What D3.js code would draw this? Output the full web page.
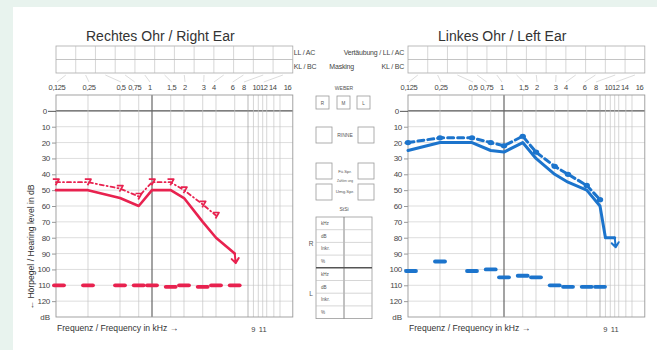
<!DOCTYPE html>
<html><head><meta charset="utf-8">
<script src="https://cdn.jsdelivr.net/npm/d3@7"></script>
<style>body{margin:0;background:#e8f3ee;overflow:hidden}svg{display:block}</style>
</head><body>
<svg id="c" width="657" height="350"></svg>
<script>
// ---------- data ----------
const gridFreqs = [0.125,0.25,0.5,0.75,1,1.5,2,3,4,6,8,9,10,11,12,14,16];
const topLabelFreqs = [0.125,0.25,0.5,0.75,1,1.5,2,3,4,6,8,10,12,14,16];
const topLabels = ["0,125","0,25","0,5","0,75","1","1,5","2","3","4","6","8","10","12","14","16"];
const dbTicks = [0,10,20,30,40,50,60,70,80,90,100,110,120];
const bottomExtraFreqs = [9,11];
const bottomExtraLabels = ["9","11"];

const rightAcFreq = [0.125,0.25,0.5,0.75,1,1.5,2,3,4,6];
const rightAcDb   = [50,50,55,60,50,50,55,70,80,90];
const rightBcFreq = [0.125,0.25,0.5,0.75,1,1.5,2,3,4];
const rightBcDb   = [45,45,49,54,45,45,50,59,66];
const rightMaskFreq = [0.125,0.25,0.5,0.75,1,1.5,2,3,4,6];
const rightMaskDb   = [110,110,110,110,110,111,110,111,110,110];
const rightNoResp = [6, 90, 96];   // freq, from dB, to dB

const leftAcFreq = [0.125,0.25,0.5,0.75,1,1.5,2,3,4,6,8,9,11];
const leftAcDb   = [25,20,20,25,26,20,30,40,45,50,60,80,80];
const leftBcFreq = [0.125,0.25,0.5,0.75,1,1.5,2,3,4,6,8];
const leftBcDb   = [20,17,17,20,22,16,26,35,40,47,56];
const leftMaskFreq = [0.125,0.25,0.5,0.75,1,1.5,2,3,4,6,8];
const leftMaskDb   = [101,95,101,100,105,104,105,110,111,111,111];
const leftNoResp = [11, 80, 86];

const stsiRows = ["kHz","dB","Inkr.","%","kHz","dB","Inkr.","%"];

// ---------- drawing ----------
const FF = "'Liberation Sans', Arial, Helvetica, sans-serif";
const RED = "#e8224f", BLUE = "#1c74cc";
const svg = d3.select("#c");
svg.append("rect").attr("x",13).attr("y",7).attr("width",644).attr("height",343).attr("fill","#fff");

const y = d3.scaleLinear().domain([-10,130]).range([95,317]);

function ear(cfg){
  const x = d3.scaleLog().base(2).domain([0.125,16]).range([cfg.x0, cfg.x0+224]);
  const left = x(0.125), right = x(16) + (x(16)-x(8))*0.4;
  const g = svg.append("g");

  // title
  g.append("text").attr("x",left+30).attr("y",41).attr("font-family",FF)
    .attr("font-size",14).attr("fill","#333").text(cfg.title);

  // masking table
  const tTop=46, tMid=59.5, tBot=73, nCol=12, colW=(right-left)/nCol;
  g.append("rect").attr("x",left).attr("y",tTop).attr("width",right-left).attr("height",tBot-tTop)
    .attr("fill","none").attr("stroke","#aaa").attr("stroke-width",0.8);
  g.append("line").attr("x1",left).attr("x2",right).attr("y1",tMid).attr("y2",tMid)
    .attr("stroke","#aaa").attr("stroke-width",0.7);
  g.selectAll(".col").data(d3.range(1,nCol)).join("line")
    .attr("x1",i=>left+i*colW).attr("x2",i=>left+i*colW).attr("y1",tTop).attr("y2",tBot)
    .attr("stroke","#bbb").attr("stroke-width",0.6);

  // top labels (spread a little around the crowded high frequencies)
  const shift = {0.75:-4, 1:-2, 4:-2, 6:-2, 8:-4, 10:-2, 12:-3, 14:-1};
  const lx = f => f===16 ? (x(16)+right)/2+1 : x(f) + (shift[f]!==undefined ? shift[f] : 1);
  g.selectAll(".tl").data(topLabelFreqs).join("text")
    .attr("x",f=>lx(f)).attr("y",90).attr("text-anchor","middle")
    .attr("font-family",FF).attr("font-size",7.5).attr("letter-spacing",-0.4).attr("fill","#444")
    .text((f,i)=>topLabels[i]);

  // connectors from table columns to labels
  const connIdx = [0,1,2,3,4,5,6,7,8,9,10,12];
  g.selectAll(".cn").data(connIdx).join("line")
    .attr("x1",(j,i)=>left+(i+0.5)*colW).attr("y1",tBot+2)
    .attr("x2",j=>lx(topLabelFreqs[j])).attr("y2",82)
    .attr("stroke","#c4c4c4").attr("stroke-width",0.6);

  // plot grid
  const top=y(-10), bot=y(130);
  g.selectAll(".hg").data(d3.range(0,130,10)).join("line")
    .attr("x1",left).attr("x2",right).attr("y1",d=>y(d)).attr("y2",d=>y(d))
    .attr("stroke",d=>d===0?"#555":"#cfcfcf").attr("stroke-width",d=>d===0?1.1:0.7);
  g.selectAll(".vg").data(gridFreqs.slice(1)).join("line")
    .attr("x1",d=>x(d)).attr("x2",d=>x(d)).attr("y1",top).attr("y2",bot)
    .attr("stroke",d=>d===1?"#666":(d===8?"#999":"#c4c4c4")).attr("stroke-width",d=>d===1?1.2:0.7);
  g.append("rect").attr("x",left).attr("y",top).attr("width",right-left).attr("height",bot-top)
    .attr("fill","none").attr("stroke","#999").attr("stroke-width",0.9);

  // y axis
  const ax = g.append("g").attr("transform",`translate(${left},0)`)
    .call(d3.axisLeft(y).tickValues(dbTicks).tickSize(5).tickPadding(2));
  ax.select(".domain").remove();
  ax.selectAll("line").attr("stroke",d=>d===0?"#555":"#999").attr("x2",d=>d===0?-8:-4).attr("x1",0);
  ax.selectAll("text").attr("font-family",FF).attr("font-size",8).attr("fill","#444")
    .attr("letter-spacing",-0.3).attr("x",d=>d===0?-9:-6);
  g.append("text").attr("x",left-6).attr("y",y(130)).attr("dy","0.32em").attr("text-anchor","end")
    .attr("font-family",FF).attr("font-size",8).attr("fill","#444").text("dB");

  // bottom texts
  g.append("text").attr("x",left+1).attr("y",331).attr("font-family",FF).attr("font-size",8.6)
    .attr("fill","#333").text("Frequenz / Frequency in kHz \u2192");
  g.selectAll(".bx").data(bottomExtraFreqs).join("text")
    .attr("x",d=>x(d)).attr("y",332).attr("text-anchor","middle").attr("font-family",FF)
    .attr("font-size",7.5).attr("fill","#444").text((d,i)=>bottomExtraLabels[i]);

  // masking dashes
  g.selectAll(".mk").data(cfg.maskF).join("line")
    .attr("x1",f=>x(f)+(f===0.125?3:0)-5).attr("x2",f=>x(f)+(f===0.125?3:0)+5)
    .attr("y1",(f,i)=>y(cfg.maskD[i])).attr("y2",(f,i)=>y(cfg.maskD[i]))
    .attr("stroke",cfg.color).attr("stroke-width",3.8).attr("stroke-linecap","round");

  // bone conduction (dashed)
  const bc = cfg.bcF.map((f,i)=>[x(f),y(cfg.bcD[i])]);
  g.append("path").attr("d",d3.line()(bc)).attr("fill","none").attr("stroke",cfg.color)
    .attr("stroke-width",cfg.bcW).attr("stroke-dasharray",cfg.bcDash).attr("stroke-linecap","round");
  if (cfg.bcMarker==="seven"){
    g.selectAll(".bm").data(bc).join("path")
      .attr("transform",d=>`translate(${d[0]},${d[1]})`)
      .attr("d","M-3.2,-3 L3,-3 L-0.5,3").attr("fill","none").attr("stroke",cfg.color)
      .attr("stroke-width",1.7).attr("stroke-linejoin","round");
  } else {
    g.selectAll(".bm").data(bc).join("ellipse")
      .attr("cx",d=>d[0]).attr("cy",d=>d[1]).attr("rx",3.2).attr("ry",2.6).attr("fill",cfg.color);
  }

  // air conduction (solid)
  const ac = cfg.acF.map((f,i)=>[x(f),y(cfg.acD[i])]);
  g.append("path").attr("d",d3.line()(ac)).attr("fill","none").attr("stroke",cfg.color)
    .attr("stroke-width",cfg.acW).attr("stroke-linejoin","round").attr("stroke-linecap","round");

  // no-response arrow
  const [nf,n0,n1] = cfg.noResp;
  const ax0=x(nf), ay0=y(n0), ay1=y(n1);
  g.append("path").attr("d",`M${ax0},${ay0} L${ax0+1},${ay1} M${ax0-3},${ay1-4} L${ax0+1},${ay1} L${ax0+4},${ay1-5}`)
    .attr("fill","none").attr("stroke",cfg.color).attr("stroke-width",2).attr("stroke-linecap","round")
    .attr("stroke-linejoin","round");
  return {left,right};
}

const R = ear({x0:56,title:"Rechtes Ohr / Right Ear",color:RED,
  acF:rightAcFreq,acD:rightAcDb,bcF:rightBcFreq,bcD:rightBcDb,maskF:rightMaskFreq,maskD:rightMaskDb,
  noResp:rightNoResp,acW:2.6,bcW:1.8,bcDash:"4,3,1,3",bcMarker:"seven"});
const L = ear({x0:408,title:"Linkes Ohr / Left Ear",color:BLUE,
  acF:leftAcFreq,acD:leftAcDb,bcF:leftBcFreq,bcD:leftBcDb,maskF:leftMaskFreq,maskD:leftMaskDb,
  noResp:leftNoResp,acW:3,bcW:3,bcDash:"6,4",bcMarker:"dot"});

// y axis title (right ear)
svg.append("text").attr("transform","translate(34,247) rotate(-90)").attr("text-anchor","middle")
  .attr("font-family",FF).attr("font-size",8.6).attr("fill","#333")
  .text("\u2190 H\u00f6rpegel / Hearing level in dB");

// table side labels
const sideT = (xx,yy,t,anchor)=>svg.append("text").attr("x",xx).attr("y",yy).attr("text-anchor",anchor||"start")
  .attr("font-family",FF).attr("font-size",7).attr("fill","#444").attr("letter-spacing",-0.2).text(t);
sideT(R.right+1,55,"LL / AC");
sideT(R.right+1,69,"KL / BC");
sideT(L.left-4,55,"Vert\u00e4ubung / LL / AC","end");
sideT(L.left-4,69,"KL / BC","end");
sideT(L.left-54,69,"Masking","end");

// middle panel
const mid = svg.append("g");
const midX = 344;
const box = (x0,y0,w,h)=>mid.append("rect").attr("x",x0).attr("y",y0).attr("width",w).attr("height",h)
  .attr("fill","#fff").attr("stroke","#999").attr("stroke-width",0.8);
const small = (xx,yy,t,size,anchor)=>mid.append("text").attr("x",xx).attr("y",yy).attr("text-anchor",anchor||"middle")
  .attr("font-family",FF).attr("font-size",size).attr("fill","#555").text(t);
small(midX,90,"WEBER",5);
[["R",316],["M",337],["L",357]].forEach(([t,x0])=>{box(x0,96,13,13);small(x0+6.5,104.5,t,4.6);});
box(316,127,16,16); box(358,127,16,16); small(345,137,"RINNE",5);
box(316,163,16,16); box(358,163,16,16); small(345,173,"Fü.Spr.",4.2);
small(345,181.5,"Zahlen  ung",3.2);
box(316,184,16,16); box(358,184,16,16); small(345,193,"Umg.Spr.",4.4);
small(344,211,"StSi",5);
const tY0=217, rowH=12.7;
mid.append("rect").attr("x",316).attr("y",tY0).attr("width",56).attr("height",rowH*8)
  .attr("fill","none").attr("stroke","#999").attr("stroke-width",0.8);
mid.append("line").attr("x1",344).attr("x2",344).attr("y1",tY0).attr("y2",tY0+rowH*8).attr("stroke","#777").attr("stroke-width",0.9);
mid.selectAll(".rl").data(d3.range(1,8)).join("line")
  .attr("x1",316).attr("x2",372).attr("y1",i=>tY0+i*rowH).attr("y2",i=>tY0+i*rowH)
  .attr("stroke",i=>i===4?"#555":"#bbb").attr("stroke-width",i=>i===4?1.6:0.6);
mid.selectAll(".rt").data(stsiRows).join("text")
  .attr("x",321).attr("y",(d,i)=>tY0+i*rowH+8).attr("font-family",FF).attr("font-size",4.6)
  .attr("fill","#555").text(d=>d);
small(311,246,"R",6.5); small(311,296,"L",6.5);
</script>
</body></html>
